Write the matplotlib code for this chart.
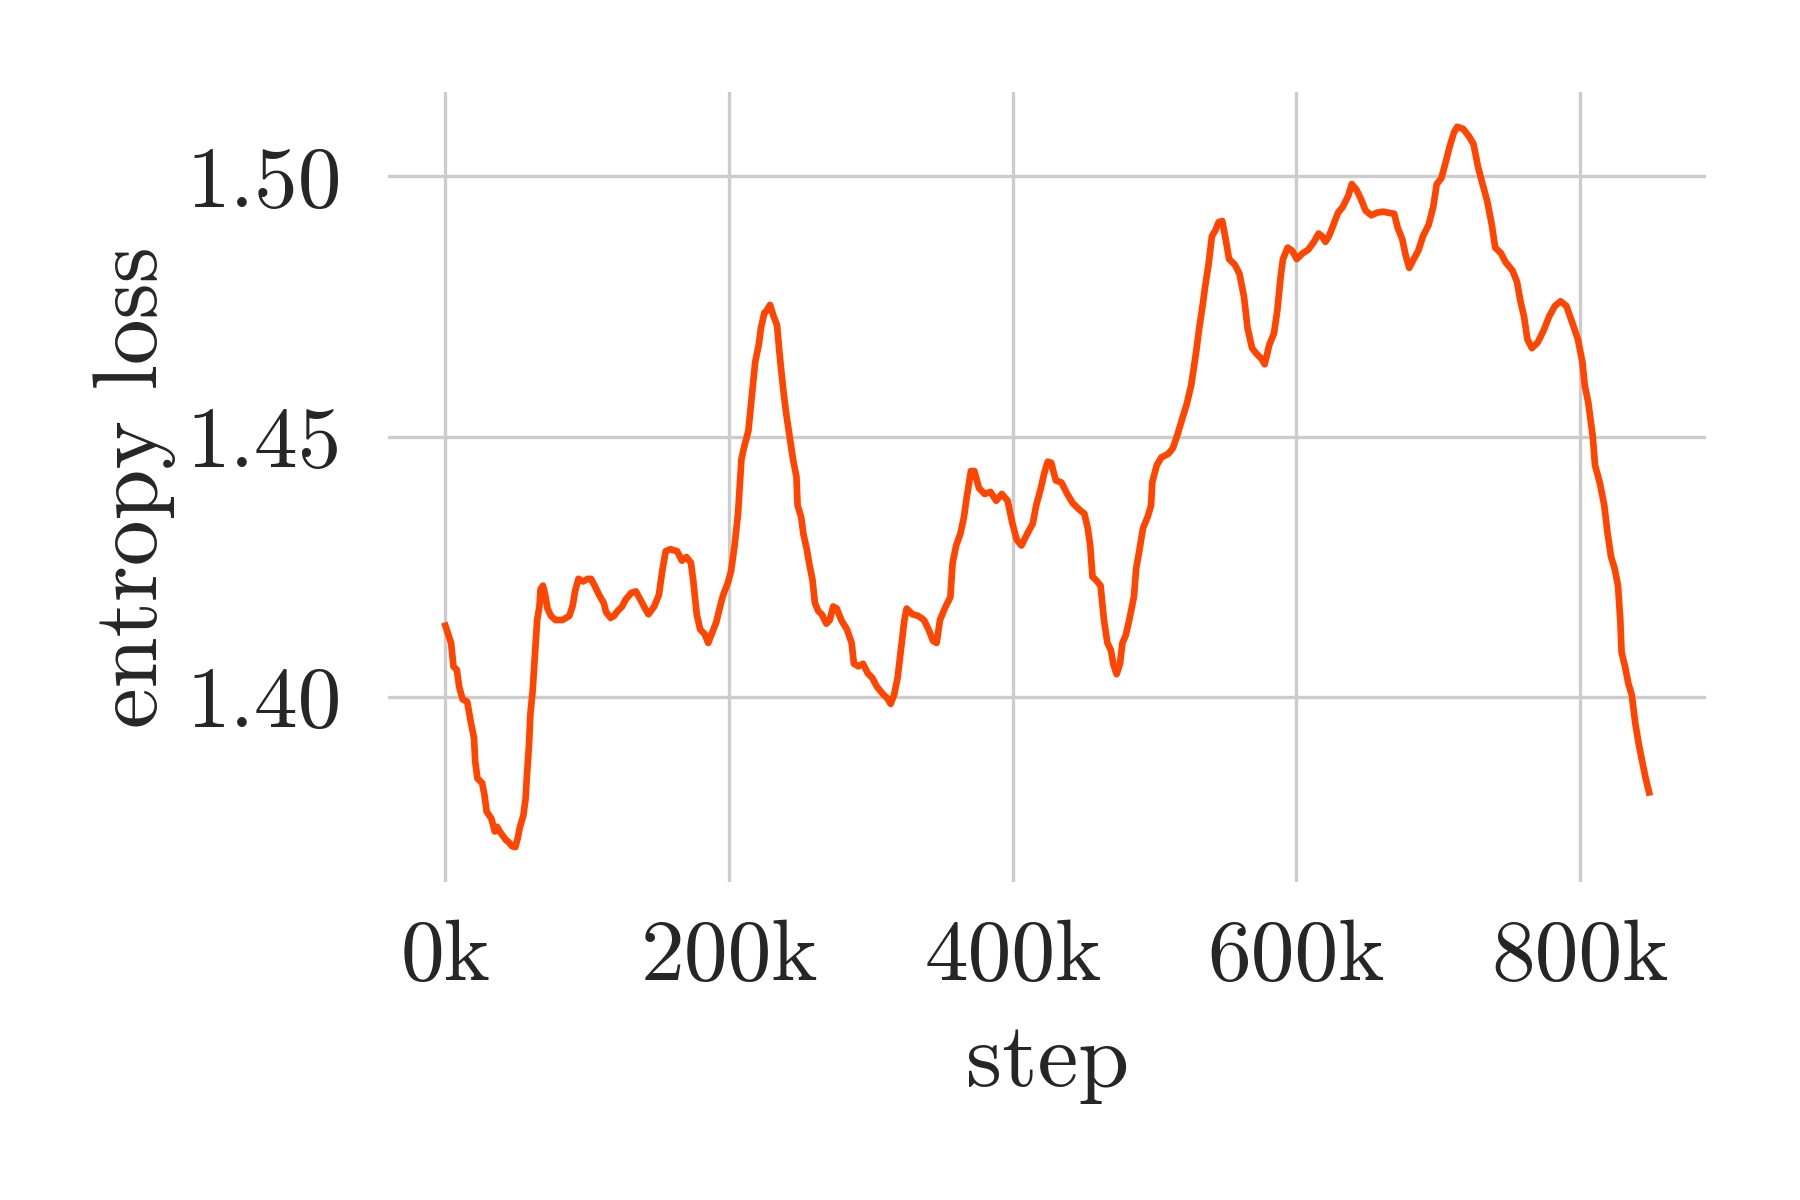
import matplotlib
matplotlib.use("Agg")
import matplotlib.pyplot as plt
import numpy as np

steps_k = [0, 4.0, 5.7, 8.1, 9.7, 12.1, 15.4, 17.8, 20.2, 21.0, 22.6, 25.9, 27.5, 29.1, 32.4, 34.8, 36.4, 38.8,
           42.9, 44.5, 46.9, 49.3, 51.0, 52.6, 55.0, 56.6, 57.4, 59.0, 59.9, 61.5, 63.1, 64.7, 66.3, 67.1, 68.8,
           70.4, 72.0, 74.4, 77.6, 82.5, 87.4, 89.8, 91.4, 93.8, 97.1, 100.3, 102.7, 105.2, 108.4, 111.6, 113.3,
           116.5, 118.9, 121.3, 124.6, 127.0, 131.0, 134.3, 137.5, 140.8, 143.2, 147.2, 150.5, 152.9, 155.3,
           158.6, 163.4, 166.7, 169.9, 173.1, 174.7, 177.2, 179.6, 182.8, 185.3, 187.7, 190.9, 193.3, 195.8,
           199.0, 201.4, 203.9, 206.3, 208.7, 210.4, 213.6, 216.0, 218.4, 220.9, 222.5, 224.9, 226.5, 228.9,
           231.4, 233.8, 235.4, 237.0, 238.6, 240.3, 242.7, 245.1, 247.5, 248.3, 250.8, 252.4, 254.8, 256.4,
           258.8, 260.5, 262.9, 265.3, 268.6, 271.0, 273.4, 275.9, 279.1, 283.1, 286.4, 288.0, 291.2, 294.4,
           297.7, 300.9, 304.2, 309.0, 311.5, 313.9, 316.3, 318.8, 321.2, 323.6, 325.2, 329.3, 333.3, 337.4,
           340.6, 343.8, 346.3, 348.7, 352.0, 356.0, 357.6, 360.1, 363.2, 365.6, 367.3, 370.5, 372.9, 376.2,
           380.2, 384.3, 388.3, 392.3, 396.4, 399.6, 402.8, 406.1, 410.1, 414.1, 416.5, 419.8, 422.2, 424.7,
           427.1, 430.3, 434.3, 438.4, 442.4, 446.5, 450.5, 452.9, 454.6, 456.2, 458.6, 461.9, 464.3, 466.7,
           469.2, 470.8, 473.2, 475.6, 477.3, 479.7, 482.1, 485.4, 487.0, 489.4, 491.8, 495.1, 497.5, 498.3,
           501.5, 504.7, 509.6, 512.9, 516.1, 519.3, 522.6, 525.8, 529.1, 531.5, 533.9, 535.5, 538.0, 540.4,
           542.8, 545.2, 547.7, 550.1, 552.5, 556.6, 559.8, 563.0, 565.5, 568.7, 571.9, 575.2, 577.6, 580.8,
           584.1, 586.5, 588.9, 590.5, 593.8, 597.0, 600.2, 604.3, 608.3, 612.3, 615.6, 618.0, 620.4, 622.9,
           626.1, 629.3, 632.6, 636.6, 639.0, 642.3, 645.5, 648.7, 652.8, 656.8, 660.9, 664.9, 668.9, 671.4,
           674.6, 677.0, 679.5, 682.7, 685.9, 689.2, 693.2, 696.4, 698.9, 702.1, 705.4, 707.8, 711.0, 713.4,
           717.5, 721.5, 724.8, 728.0, 731.2, 734.5, 737.7, 740.1, 744.2, 747.4, 752.3, 755.5, 757.9, 760.4,
           762.8, 766.0, 770.1, 774.1, 778.2, 782.2, 786.2, 790.3, 794.3, 798.4, 801.6, 803.2, 805.7, 808.9,
           810.5, 813.8, 817.0, 819.4, 821.8, 824.3, 826.7, 828.3, 829.2, 831.6, 834.0, 836.4, 838.9, 841.3,
           843.7, 846.2, 848.6]

loss = [1.4137, 1.4104, 1.4059, 1.4052, 1.4020, 1.3996, 1.3991, 1.3954, 1.3921, 1.3877, 1.3844, 1.3835, 1.3813,
        1.3780, 1.3767, 1.3742, 1.3751, 1.3740, 1.3725, 1.3722, 1.3714, 1.3712, 1.3729, 1.3751, 1.3773, 1.3806,
        1.3846, 1.3910, 1.3967, 1.4011, 1.4081, 1.4148, 1.4174, 1.4207, 1.4214, 1.4196, 1.4170, 1.4156, 1.4148,
        1.4148, 1.4156, 1.4176, 1.4203, 1.4227, 1.4222, 1.4227, 1.4227, 1.4214, 1.4196, 1.4181, 1.4163, 1.4152,
        1.4156, 1.4165, 1.4174, 1.4187, 1.4200, 1.4203, 1.4187, 1.4170, 1.4159, 1.4174, 1.4196, 1.4242, 1.4280,
        1.4284, 1.4280, 1.4262, 1.4269, 1.4258, 1.4225, 1.4159, 1.4130, 1.4121, 1.4104, 1.4121, 1.4143, 1.4170,
        1.4196, 1.4218, 1.4242, 1.4291, 1.4352, 1.4456, 1.4478, 1.4511, 1.4577, 1.4643, 1.4676, 1.4709, 1.4738,
        1.4742, 1.4753, 1.4731, 1.4714, 1.4665, 1.4621, 1.4581, 1.4544, 1.4500, 1.4456, 1.4423, 1.4368, 1.4346,
        1.4313, 1.4284, 1.4258, 1.4225, 1.4181, 1.4165, 1.4159, 1.4141, 1.4148, 1.4174, 1.4170, 1.4148, 1.4130,
        1.4104, 1.4064, 1.4059, 1.4064, 1.4046, 1.4037, 1.4020, 1.4004, 1.3998, 1.3987, 1.4004, 1.4037, 1.4093,
        1.4148, 1.4170, 1.4159, 1.4156, 1.4148, 1.4130, 1.4108, 1.4104, 1.4148, 1.4170, 1.4192, 1.4258, 1.4291,
        1.4315, 1.4346, 1.4379, 1.4434, 1.4434, 1.4401, 1.4390, 1.4394, 1.4377, 1.4390, 1.4377, 1.4335, 1.4302,
        1.4291, 1.4313, 1.4333, 1.4368, 1.4401, 1.4430, 1.4452, 1.4450, 1.4416, 1.4412, 1.4390, 1.4372, 1.4361,
        1.4352, 1.4324, 1.4291, 1.4231, 1.4225, 1.4214, 1.4148, 1.4104, 1.4090, 1.4064, 1.4044, 1.4064, 1.4104,
        1.4119, 1.4148, 1.4192, 1.4247, 1.4284, 1.4324, 1.4346, 1.4368, 1.4412, 1.4445, 1.4460, 1.4467, 1.4478,
        1.4504, 1.4533, 1.4562, 1.4599, 1.4659, 1.4709, 1.4753, 1.4786, 1.4830, 1.4885, 1.4896, 1.4912, 1.4914,
        1.4879, 1.4841, 1.4830, 1.4813, 1.4769, 1.4709, 1.4670, 1.4659, 1.4650, 1.4639, 1.4676, 1.4698, 1.4742,
        1.4808, 1.4841, 1.4863, 1.4857, 1.4841, 1.4852, 1.4859, 1.4874, 1.4890, 1.4885, 1.4874, 1.4885, 1.4907,
        1.4930, 1.4941, 1.4963, 1.4985, 1.4974, 1.4956, 1.4934, 1.4925, 1.4930, 1.4932, 1.4930, 1.4928, 1.4901,
        1.4879, 1.4848, 1.4824, 1.4841, 1.4857, 1.4885, 1.4907, 1.4941, 1.4985, 1.4996, 1.5029, 1.5055, 1.5084,
        1.5095, 1.5091, 1.5077, 1.5062, 1.5018, 1.4985, 1.4952, 1.4907, 1.4863, 1.4852, 1.4835, 1.4819, 1.4797,
        1.4760, 1.4731, 1.4687, 1.4670, 1.4681, 1.4703, 1.4731, 1.4751, 1.4760, 1.4751, 1.4720, 1.4687, 1.4643,
        1.4599, 1.4566, 1.4500, 1.4445, 1.4412, 1.4368, 1.4313, 1.4269, 1.4247, 1.4214, 1.4148, 1.4086, 1.4059,
        1.4026, 1.4004, 1.3949, 1.3910, 1.3877, 1.3844, 1.3817]

xticks_k = [0, 200, 400, 600, 800]
xtick_labels = ["0k", "200k", "400k", "600k", "800k"]
yticks = [1.40, 1.45, 1.50]
ytick_labels = ["1.40", "1.45", "1.50"]

plt.rcParams["font.family"] = ["cmr10", "DejaVu Serif"]
plt.rcParams["mathtext.fontset"] = "cm"
plt.rcParams["axes.formatter.use_mathtext"] = True

fig = plt.figure(figsize=(6, 4), dpi=300)
ax = fig.add_axes([0.2156, 0.265, 0.7324, 0.658])

ax.plot(np.array(steps_k) * 1000, loss, color="#FF4500", linewidth=1.6, zorder=3)

ax.set_xlim(-40400, 889000)
ax.set_ylim(1.3645, 1.5161)
ax.set_xticks(np.array(xticks_k) * 1000)
ax.set_xticklabels(xtick_labels)
ax.set_yticks(yticks)
ax.set_yticklabels(ytick_labels)

ax.grid(True, color="#cccccc", linewidth=0.8)
ax.set_axisbelow(True)
for s in ax.spines.values():
    s.set_visible(False)
ax.tick_params(axis="both", length=0, labelsize=21, colors="#262626")
ax.tick_params(axis="x", pad=9)
ax.tick_params(axis="y", pad=11)
ax.set_xlabel("step", fontsize=22, color="#262626", labelpad=6)
ax.set_ylabel("entropy loss", fontsize=22, color="#262626", labelpad=2.5)

fig.savefig("out.png", dpi=300, facecolor="white")
